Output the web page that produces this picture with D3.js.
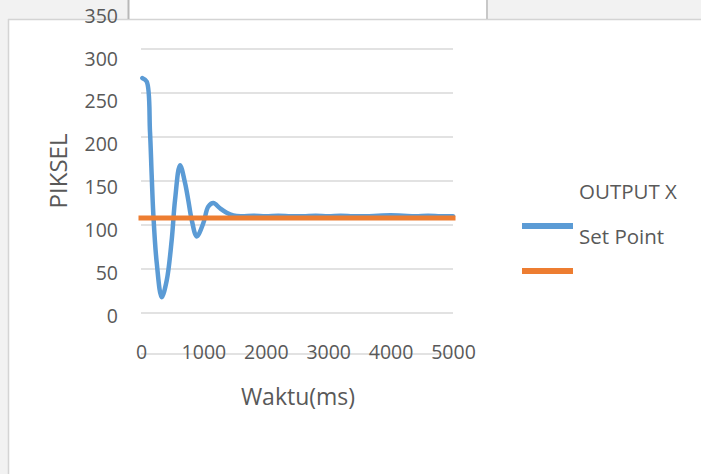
<!DOCTYPE html>
<html>
<head>
<meta charset="utf-8">
<script src="https://cdn.jsdelivr.net/npm/d3@7/dist/d3.min.js"></script>
<style>
  body { margin: 0; background: #ffffff; }
  svg { display: block; font-family: "Open Sans", sans-serif; }
</style>
</head>
<body>
<svg id="chart" width="701" height="474"></svg>
<script>
// ---- data ----
const timeMs = [21, 91, 144, 171, 197, 252, 332, 412, 492, 545, 625, 705, 758, 812, 893, 998, 1079, 1159, 1266, 1373, 1479,
  1600, 1800, 2000, 2200, 2400, 2600, 2800, 3000, 3200, 3400, 3600, 3800, 4000, 4200, 4400, 4600, 4800, 5000];
const outputX = [267, 263, 206, 157, 113, 57, 18, 37, 83, 128, 168, 148, 128, 106, 87, 102, 121, 125, 119, 114, 111,
  110, 110.5, 110, 110.5, 110, 110, 110.5, 110, 110.5, 110, 110, 110.5, 111, 110.5, 110, 110.5, 110, 110];
const setPointTime = [0, 5000];
const setPointValue = [108, 108];
const yTicks = [0, 50, 100, 150, 200, 250, 300, 350];
const xTicks = [0, 1000, 2000, 3000, 4000, 5000];
const seriesNames = ["OUTPUT X", "Set Point"];
const seriesColors = ["#5b9bd5", "#ed7d31"];
const xTitle = "Waktu(ms)";
const yTitle = "PIKSEL";

// ---- drawing ----
const svg = d3.select("#chart");
const textColor = "#595959";
const gridColor = "#d9d9d9";

const x = d3.scaleLinear().domain([0, 5000]).range([141, 453]);
const y = d3.scaleLinear().domain([0, 300]).range([313, 49]);
const yLabel = d3.scaleLinear().domain([0, 350]).range([316, 16]);

// page frame
svg.append("rect").attr("x", 0).attr("y", 0).attr("width", 701).attr("height", 474).attr("fill", "#ffffff");
svg.append("rect").attr("x", 0).attr("y", 0).attr("width", 8).attr("height", 474).attr("fill", "#f2f2f2");
svg.append("rect").attr("x", 0).attr("y", 0).attr("width", 128).attr("height", 19).attr("fill", "#f2f2f2");
svg.append("rect").attr("x", 488).attr("y", 0).attr("width", 213).attr("height", 19).attr("fill", "#f2f2f2");
svg.append("line").attr("x1", 8).attr("x2", 701).attr("y1", 19.5).attr("y2", 19.5).attr("stroke", "#d4d4d4").attr("stroke-width", 1.5);
svg.append("line").attr("x1", 8.5).attr("x2", 8.5).attr("y1", 19).attr("y2", 474).attr("stroke", "#d4d4d4").attr("stroke-width", 1.5);
svg.append("line").attr("x1", 128.5).attr("x2", 128.5).attr("y1", 0).attr("y2", 19).attr("stroke", "#b8b8b8").attr("stroke-width", 2);
svg.append("line").attr("x1", 487).attr("x2", 487).attr("y1", 0).attr("y2", 19).attr("stroke", "#c8c8c8").attr("stroke-width", 2);

// gridlines
svg.append("g").selectAll("line").data(yTicks.filter(v => v <= 300)).join("line")
  .attr("x1", x(0)).attr("x2", x(5000))
  .attr("y1", d => y(d)).attr("y2", d => y(d))
  .attr("stroke", gridColor).attr("stroke-width", 1.5);

// x axis line (sits at the label row)
svg.append("line").attr("x1", x(0)).attr("x2", x(5000)).attr("y1", 354).attr("y2", 354)
  .attr("stroke", gridColor).attr("stroke-width", 1.5);

// y axis labels
const yAxis = d3.axisLeft(yLabel).tickValues(yTicks).tickSize(0).tickPadding(0);
const gy = svg.append("g").attr("transform", "translate(118,0)").call(yAxis);
gy.select(".domain").remove();
gy.selectAll("text").attr("fill", textColor).style("font-size", "19.5px").style("font-family", "'Open Sans', sans-serif");

// x axis labels
const xAxis = d3.axisBottom(x).tickValues(xTicks).tickFormat(d3.format("d")).tickSize(0).tickPadding(0);
const gx = svg.append("g").attr("transform", "translate(0,345)").call(xAxis);
gx.select(".domain").remove();
gx.selectAll("text").attr("fill", textColor).style("font-size", "19.5px").style("font-family", "'Open Sans', sans-serif");

// titles
svg.append("text").attr("x", 298).attr("y", 397).attr("dy", "0.35em").attr("text-anchor", "middle")
  .attr("fill", textColor).style("font-size", "23px").text(xTitle);
svg.append("text").attr("transform", "translate(59,171) rotate(-90)").attr("dy", "0.35em").attr("text-anchor", "middle")
  .attr("fill", textColor).style("font-size", "24px").text(yTitle);

// series
const lineGen = d3.line().x(d => x(d[0])).y(d => y(d[1]));
svg.append("path")
  .datum(timeMs.map((t, i) => [t, outputX[i]]))
  .attr("d", d3.line().x(d => x(d[0])).y(d => y(d[1])).curve(d3.curveCatmullRom.alpha(0.5)))
  .attr("fill", "none").attr("stroke", seriesColors[0]).attr("stroke-width", 4.5)
  .attr("stroke-linecap", "round").attr("stroke-linejoin", "round");
// set point drawn on top of the flat tail
svg.append("path")
  .datum(setPointTime.map((t, i) => [t, setPointValue[i]]))
  .attr("d", lineGen)
  .attr("fill", "none").attr("stroke", seriesColors[1]).attr("stroke-width", 5).attr("stroke-linecap", "square");

// legend
const legend = svg.append("g");
seriesNames.forEach((name, i) => {
  legend.append("text").attr("x", 579).attr("y", 192 + i * 45).attr("dy", "0.35em")
    .attr("fill", textColor).style("font-size", "20.5px").text(name);
  legend.append("line").attr("x1", 522).attr("x2", 573).attr("y1", 226 + i * 45).attr("y2", 226 + i * 45)
    .attr("stroke", seriesColors[i]).attr("stroke-width", 6);
});
</script>
</body>
</html>
